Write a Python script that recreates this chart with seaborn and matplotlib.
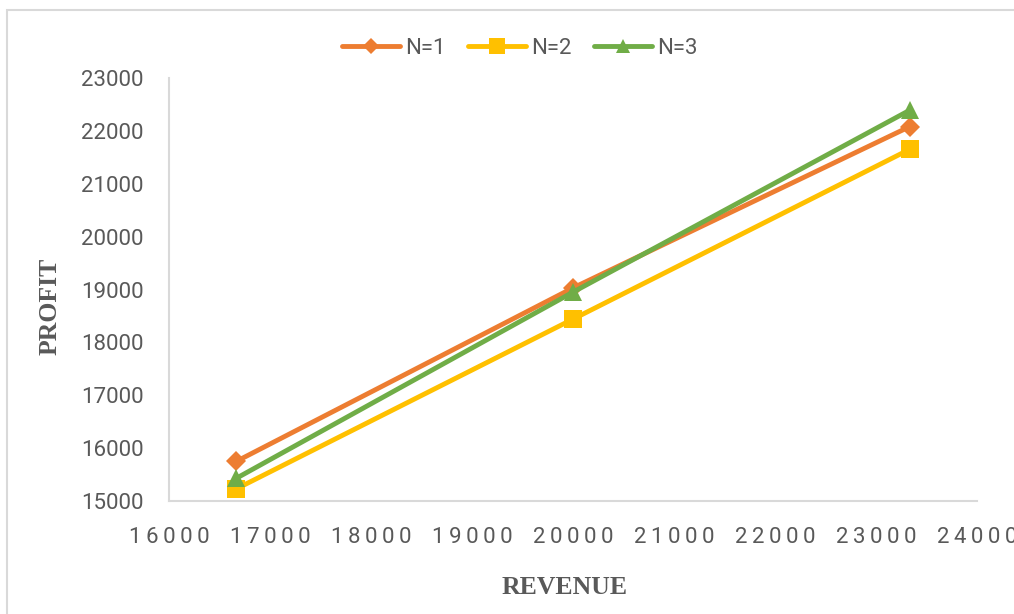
import matplotlib
matplotlib.use("Agg")
import matplotlib.pyplot as plt
from matplotlib.patches import Rectangle
from matplotlib.ticker import FixedLocator, FixedFormatter
import seaborn as sns
import pandas as pd

# Revenue levels and profit for each N
revenue = [16667, 20000, 23333]
profit_n1 = [15750, 19030, 22080]
profit_n2 = [15230, 18440, 21650]
profit_n3 = [15430, 18950, 22390]
series_names = ["N=1", "N=2", "N=3"]

x_ticks = [16000, 17000, 18000, 19000, 20000, 21000, 22000, 23000, 24000]
y_ticks = [15000, 16000, 17000, 18000, 19000, 20000, 21000, 22000, 23000]

colors = ["#ED7D31", "#FFC000", "#70AD47"]
markers = ["D", "s", "^"]
msizes = [10, 13.5, 12.5]

sns.set_theme(style="white")
plt.rcParams["font.family"] = ["Roboto", "DejaVu Sans"]

W, H = 1014, 614
fig = plt.figure(figsize=(W / 100, H / 100), dpi=100)
ax = fig.add_axes([169 / W, 1 - 501 / H, (977 - 169) / W, (501 - 78) / H])

df = pd.DataFrame({
    "revenue": revenue * 3,
    "profit": profit_n1 + profit_n2 + profit_n3,
    "N": [n for n in series_names for _ in revenue],
})

for name, c, m, ms in zip(series_names, colors, markers, msizes):
    sub = df[df["N"] == name]
    sns.lineplot(data=sub, x="revenue", y="profit", ax=ax, color=c,
                 linewidth=3.5, marker=m, markersize=ms, markeredgewidth=0,
                 label=name, legend=False)

ax.set_xlim(16000, 24000)
ax.set_ylim(15000, 23000)
ax.xaxis.set_major_locator(FixedLocator(x_ticks))
ax.xaxis.set_major_formatter(FixedFormatter(["\u2009".join(str(v)) for v in x_ticks]))
ax.yaxis.set_major_locator(FixedLocator(y_ticks))
ax.yaxis.set_major_formatter(FixedFormatter([str(v) for v in y_ticks]))
ax.tick_params(axis="x", length=0, pad=19, labelsize=16, labelcolor="#595959")
ax.tick_params(axis="y", length=0, pad=18, labelsize=16, labelcolor="#595959")
for lbl in ax.get_xticklabels() + ax.get_yticklabels():
    lbl.set_family(["Roboto", "DejaVu Sans"])

for side in ["top", "right"]:
    ax.spines[side].set_visible(False)
for side in ["left", "bottom"]:
    ax.spines[side].set_color("#D9D9D9")
    ax.spines[side].set_linewidth(1.5)
ax.set_xlabel("")
ax.set_ylabel("")
ax.grid(False)

fig.text(50 / W, 1 - 306 / H, "PROFIT", rotation=90, ha="center", va="center",
         family="Liberation Serif", fontweight="bold", fontsize=18.5, color="#595959")
fig.text(565 / W, 1 - 588 / H, "REVENUE", ha="center", va="center",
         family="Liberation Serif", fontweight="bold", fontsize=18.5, color="#595959")

handles, labels = ax.get_legend_handles_labels()
leg = fig.legend(handles, labels, loc="center", bbox_to_anchor=(520 / W, 1 - 48 / H),
                 ncol=3, frameon=False, fontsize=16, handlelength=2.6,
                 handletextpad=0.25, columnspacing=1.0, markerscale=0.85)
for t in leg.get_texts():
    t.set_color("#595959")

# outer chart border
fig.patches.append(Rectangle((7 / W, -0.1), 1.2, 1 - 10 / H + 0.1,
                             transform=fig.transFigure, fill=False,
                             edgecolor="#D9D9D9", linewidth=1.5, zorder=0))

fig.savefig("out.png", dpi=100)
